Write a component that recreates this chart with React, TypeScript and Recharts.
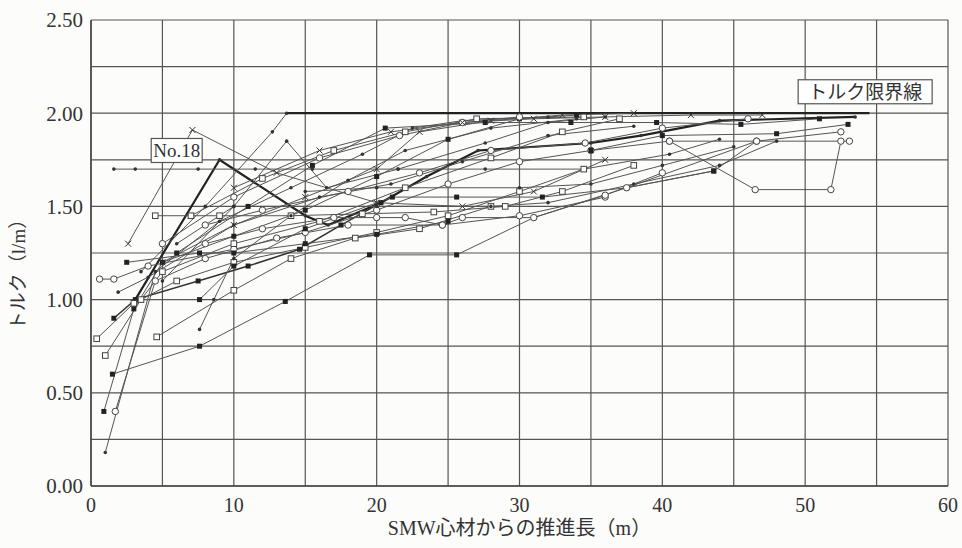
import React from 'react';
import { LineChart, Line, XAxis, YAxis, CartesianGrid, ReferenceDot, Label } from 'recharts';

type Pt = [number, number];
type Kind = 'fsq' | 'osq' | 'oc' | 'x' | 'dot' | 'none';

// axis ticks (grid every 5 m / 0.25, labels every 10 m / 0.5)
const xTicks = [0, 5, 10, 15, 20, 25, 30, 35, 40, 45, 50, 55, 60];
const yTicks = [0, 0.25, 0.5, 0.75, 1.0, 1.25, 1.5, 1.75, 2.0, 2.25, 2.5];

// series: [distance (m), torque (l/m)]
const limitLine: Pt[] = [[13.7, 2.0], [54.5, 2.0]];
const no18: Pt[] = [[3.1, 1.0], [9.0, 1.75], [15.0, 1.45], [16.6, 1.4], [20.3, 1.52], [23.5, 1.66], [27.1, 1.8], [35.0, 1.84], [38.5, 1.88], [44.0, 1.96], [53.5, 1.98]];
const riseA: Pt[] = [[1.6, 0.9], [3.1, 1.0], [7.5, 1.1], [11, 1.18], [14.6, 1.27], [17.5, 1.4], [20.3, 1.52]];
const flat170: Pt[] = [[1.6, 1.7], [3.1, 1.7], [7.5, 1.7], [11.5, 1.7], [15.5, 1.7], [21.5, 1.7], [27.6, 1.7], [34.5, 1.7], [40.5, 1.78], [44, 1.86]];
const cross191: Pt[] = [[2.6, 1.3], [7.1, 1.91], [13, 1.68], [20, 1.52], [26, 1.5], [31, 1.58], [36, 1.75]];
const sq145: Pt[] = [[4.5, 1.45], [9, 1.45], [14, 1.45], [19, 1.46], [24, 1.47], [29, 1.5], [33, 1.58], [38, 1.72]];
const low060: Pt[] = [[1.5, 0.6], [7.6, 0.75], [13.6, 0.99], [19.5, 1.24], [25.6, 1.24], [31.0, 1.44], [37.5, 1.6], [43.6, 1.69], [46.6, 1.85]];
const circ111: Pt[] = [[0.6, 1.11], [1.6, 1.11], [4, 1.18], [10, 1.27], [15, 1.36], [20, 1.48], [25, 1.62], [30, 1.74], [35, 1.8], [40.5, 1.85], [46.5, 1.59], [51.8, 1.59], [52.5, 1.85]];
const sq079: Pt[] = [[0.4, 0.79], [3.0, 0.98], [6, 1.1], [10, 1.2], [15, 1.28], [20, 1.36], [25, 1.45], [30, 1.58], [34.5, 1.7]];
const sq070: Pt[] = [[1.0, 0.7], [3.5, 1.0], [5, 1.15], [10, 1.3], [16, 1.42], [22, 1.6], [28, 1.76], [33, 1.9], [37, 1.97]];
const fsq040: Pt[] = [[0.9, 0.4], [3.0, 0.95], [5, 1.2], [10, 1.34], [15, 1.48], [20, 1.66], [25, 1.86], [30, 1.97], [34, 1.99]];
const circ040: Pt[] = [[1.7, 0.4], [4.5, 1.1], [8, 1.22], [13, 1.33], [18, 1.4], [24.6, 1.4], [30, 1.45], [36, 1.55]];
const tri018: Pt[] = [[1.0, 0.18], [4.5, 1.15], [9, 1.42], [14, 1.6], [19, 1.78], [22.5, 1.92], [26, 1.96], [32, 1.98]];
const dot104: Pt[] = [[1.9, 1.04], [4.0, 1.12], [10, 1.4], [16, 1.55], [21, 1.62], [26, 1.74], [32, 1.88], [38, 1.93]];
const sq080: Pt[] = [[4.6, 0.8], [10, 1.05], [14, 1.22], [18.5, 1.33], [23, 1.38], [28, 1.5]];
const fsq100: Pt[] = [[7.6, 1.0], [10, 1.18], [15, 1.38], [21.1, 1.55], [25.6, 1.55], [31.6, 1.55], [37.5, 1.6], [43.6, 1.69]];
const dot084: Pt[] = [[7.6, 0.84], [8.6, 1.0], [10, 1.22], [14, 1.45], [18, 1.64], [22, 1.8], [28, 1.92], [34, 1.97]];
const peak185: Pt[] = [[5, 1.1], [10, 1.5], [13.7, 1.85], [16.5, 1.6], [21.5, 1.7], [27.6, 1.84], [32, 1.95], [36, 1.98]];
const toLimit: Pt[] = [[3.5, 1.15], [8, 1.5], [12.7, 1.9], [13.7, 2.0]];
const top195: Pt[] = [[6, 1.25], [11, 1.5], [15.5, 1.72], [20.6, 1.92], [27.6, 1.95], [33.6, 1.95], [39.6, 1.95], [45.5, 1.94], [51, 1.97]];
const circ188: Pt[] = [[5, 1.3], [10, 1.55], [16, 1.76], [21.6, 1.88], [26, 1.95], [30, 1.98]];
const cross200: Pt[] = [[5, 1.2], [10, 1.4], [15, 1.55], [20, 1.7], [23, 1.9], [28, 1.96], [33, 1.99], [38, 2.0]];
const sq197: Pt[] = [[7, 1.45], [12, 1.65], [17, 1.8], [22, 1.9], [27, 1.97], [34.5, 1.98]];
const circ144: Pt[] = [[8, 1.3], [12, 1.38], [17, 1.44], [20, 1.44], [22, 1.44], [24.6, 1.4], [26, 1.44], [31, 1.44], [36, 1.56], [40, 1.68]];
const rightA: Pt[] = [[35, 1.8], [40, 1.88], [48, 1.89], [53, 1.94]];
const right185: Pt[] = [[40.5, 1.85], [46.6, 1.85], [53.1, 1.85]];
const right190: Pt[] = [[37.5, 1.6], [46.6, 1.85], [52.5, 1.9]];
const cross199: Pt[] = [[10, 1.6], [16, 1.8], [21, 1.9], [26, 1.95], [31, 1.97], [36, 1.98], [42, 1.99], [47, 1.99]];
const flat150: Pt[] = [[6, 1.3], [10, 1.5], [20, 1.5], [28, 1.5], [32, 1.52], [38, 1.62], [44, 1.72], [48, 1.85]];
const circ184: Pt[] = [[8, 1.4], [12, 1.48], [18, 1.58], [23, 1.68], [28, 1.8], [34.6, 1.84], [40, 1.92], [46, 1.97]];
const flat160: Pt[] = [[15, 1.58], [20, 1.6], [30, 1.6], [35, 1.62], [40, 1.72], [45, 1.82]];
const rise125: Pt[] = [[2.5, 1.2], [7.6, 1.25], [10, 1.25], [15, 1.3], [20, 1.35], [25, 1.42]];

const SERIES: { name: string; pts: Pt[]; kind: Kind; color?: string; width?: number }[] = [
  { name: 'limit', pts: limitLine, kind: 'none', color: '#222', width: 2.2 },
  { name: 'no18', pts: no18, kind: 'dot', color: '#222', width: 2.2 },
  { name: 'riseA', pts: riseA, kind: 'fsq', color: '#333', width: 1.5 },
  { name: 'flat170', pts: flat170, kind: 'dot' },
  { name: 'cross191', pts: cross191, kind: 'x' },
  { name: 'sq145', pts: sq145, kind: 'osq' },
  { name: 'low060', pts: low060, kind: 'fsq' },
  { name: 'circ111', pts: circ111, kind: 'oc' },
  { name: 'sq079', pts: sq079, kind: 'osq' },
  { name: 'sq070', pts: sq070, kind: 'osq' },
  { name: 'fsq040', pts: fsq040, kind: 'fsq' },
  { name: 'circ040', pts: circ040, kind: 'oc' },
  { name: 'tri018', pts: tri018, kind: 'dot' },
  { name: 'dot104', pts: dot104, kind: 'dot' },
  { name: 'sq080', pts: sq080, kind: 'osq' },
  { name: 'fsq100', pts: fsq100, kind: 'fsq' },
  { name: 'dot084', pts: dot084, kind: 'dot' },
  { name: 'peak185', pts: peak185, kind: 'dot' },
  { name: 'toLimit', pts: toLimit, kind: 'dot' },
  { name: 'top195', pts: top195, kind: 'fsq' },
  { name: 'circ188', pts: circ188, kind: 'oc' },
  { name: 'cross200', pts: cross200, kind: 'x' },
  { name: 'sq197', pts: sq197, kind: 'osq' },
  { name: 'circ144', pts: circ144, kind: 'oc' },
  { name: 'rightA', pts: rightA, kind: 'fsq' },
  { name: 'right185', pts: right185, kind: 'oc' },
  { name: 'right190', pts: right190, kind: 'oc' },
  { name: 'cross199', pts: cross199, kind: 'x' },
  { name: 'flat150', pts: flat150, kind: 'dot' },
  { name: 'circ184', pts: circ184, kind: 'oc' },
  { name: 'flat160', pts: flat160, kind: 'dot' },
  { name: 'rise125', pts: rise125, kind: 'fsq' },
];

const SERIF = "'Liberation Serif', 'DejaVu Serif', 'Noto Sans CJK JP', serif";

const Marker = ({ cx, cy, kind }: { cx?: number; cy?: number; kind: Kind }) => {
  if (cx == null || cy == null || kind === 'none') return null;
  switch (kind) {
    case 'fsq':
      return <rect x={cx - 2.5} y={cy - 2.5} width={5} height={5} fill="#222" />;
    case 'osq':
      return <rect x={cx - 2.8} y={cy - 2.8} width={5.6} height={5.6} fill="#fff" stroke="#444" strokeWidth={1} />;
    case 'oc':
      return <circle cx={cx} cy={cy} r={3.2} fill="#fff" stroke="#444" strokeWidth={1} />;
    case 'x':
      return (
        <path d={`M${cx - 3},${cy - 3}L${cx + 3},${cy + 3}M${cx - 3},${cy + 3}L${cx + 3},${cy - 3}`} stroke="#333" strokeWidth={1} />
      );
    default:
      return <circle cx={cx} cy={cy} r={1.8} fill="#333" />;
  }
};

// boxed annotation anchored at a data point
const boxLabel = (text: string, w: number, size: number) => (p: any) => (
  <g>
    <rect x={p.cx - w / 2} y={p.cy - 12} width={w} height={24} fill="#fff" stroke="#555" strokeWidth={1.2} />
    <text x={p.cx} y={p.cy + size * 0.36} textAnchor="middle" className="serif-text" fontSize={size} fill="#333">
      {text}
    </text>
  </g>
);

// rotated y title, nudged a little below the axis centre like the scan
const YTitle = (props: any) => {
  const vb = props.viewBox || {};
  const x = (vb.x ?? 0) + 10;
  const y = (vb.y ?? 0) + (vb.height ?? 0) / 2 + 17;
  return (
    <text x={x} y={y} transform={`rotate(-90, ${x}, ${y})`} textAnchor="middle" dominantBaseline="central" className="serif-text" fontSize={19} fill="#333">
      トルク（l/m）
    </text>
  );
};

const App: React.FC = () => {
  return (
    <div style={{ background: '#fcfcfb', fontFamily: SERIF, width: 962, height: 548, padding: '8px 0 0 8px', boxSizing: 'border-box', overflow: 'hidden' }}>
      <style>{`body { margin: 0; } .recharts-text, .serif-text { font-family: ${SERIF}; } .recharts-surface { display: block; overflow: visible; }`}</style>
      <LineChart width={954} height={532} margin={{ top: 12, right: 14, left: 0, bottom: 0 }}>
        <CartesianGrid stroke="#555" strokeWidth={1.2} />
        <XAxis
          dataKey="x"
          type="number"
          domain={[0, 60]}
          ticks={xTicks}
          interval={0}
          height={54}
          tickLine={false}
          tickMargin={6}
          axisLine={{ stroke: '#444', strokeWidth: 1.5 }}
          tickFormatter={(v: number) => (v % 10 === 0 ? String(v) : '')}
          tick={{ fill: '#333', fontSize: 20 }}
        >
          <Label value="SMW心材からの推進長（m）" position="insideBottom" offset={5} style={{ fill: '#333', fontSize: 20 }} />
        </XAxis>
        <YAxis
          type="number"
          domain={[0, 2.5]}
          ticks={yTicks}
          interval={0}
          width={83}
          tickLine={false}
          axisLine={{ stroke: '#444', strokeWidth: 1.5 }}
          tickFormatter={(v: number) => (Math.round(v * 100) % 50 === 0 ? v.toFixed(2) : '')}
          tick={{ fill: '#333', fontSize: 21 }}
        >
          <Label content={YTitle} />
        </YAxis>
        {SERIES.map((s) => (
          <Line
            key={s.name}
            data={s.pts.map(([x, y]) => ({ x, y }))}
            dataKey="y"
            type="linear"
            stroke={s.color ?? '#555'}
            strokeWidth={s.width ?? 1}
            isAnimationActive={false}
            activeDot={false}
            dot={(p: any) => <Marker key={`${s.name}-${p.index}`} cx={p.cx} cy={p.cy} kind={s.kind} />}
          />
        ))}
        <ReferenceDot x={54.2} y={2.115} r={0} shape={boxLabel('トルク限界線', 134, 19)} />
        <ReferenceDot x={6.0} y={1.8} r={0} shape={boxLabel('No.18', 51, 19)} />
      </LineChart>
    </div>
  );
};

export default App;
